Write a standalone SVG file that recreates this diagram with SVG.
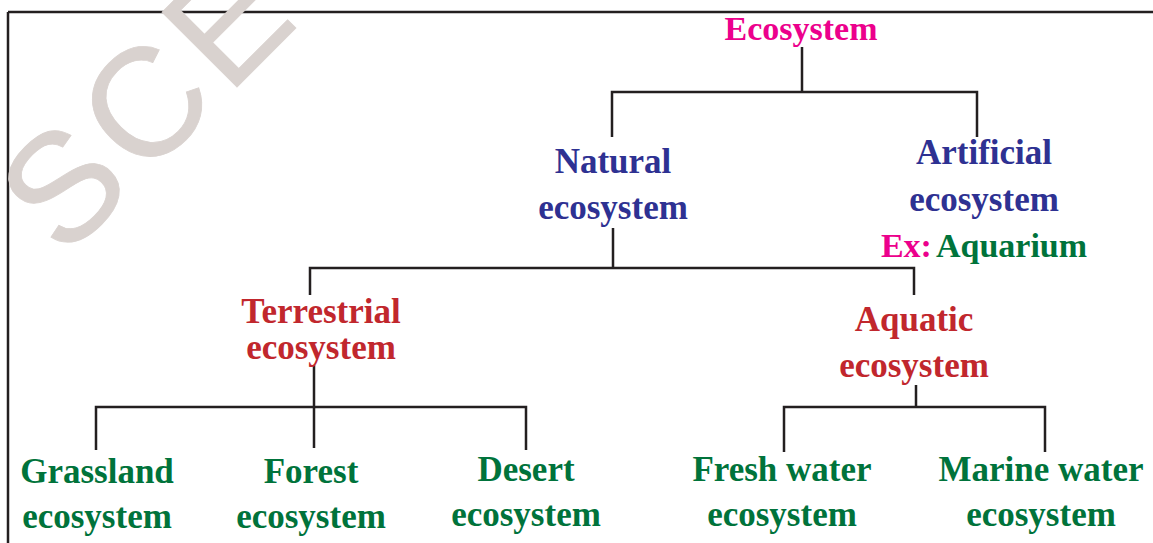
<svg xmlns="http://www.w3.org/2000/svg" width="1153" height="543" viewBox="0 0 1153 543">
<style>
.t{font-family:"Liberation Serif","Times New Roman",serif;font-weight:bold;font-size:35px;text-anchor:middle}
.mag{fill:#ec008c}.blue{fill:#2e3192}.red{fill:#c1272d}.grn{fill:#00733b}
.c{stroke:#231f20;stroke-width:2.5;fill:none}
.wm{font-family:"Liberation Sans",Arial,sans-serif;font-size:154px;fill:#d9d2cf;stroke:#d9d2cf;stroke-width:0.8;letter-spacing:9px}
</style>
<rect width="1153" height="543" fill="#fff"/>
<path d="M8 12H1153M8 12V543" stroke="#231f20" stroke-width="2.5" fill="none"/>
<text class="wm" transform="translate(64,260) rotate(-45)">SCE</text>
<g id="connectors" class="c">
<path d="M802 47V92M612 137V92H977V137"/>
<path d="M613 228V268M310 295V268H914V295"/>
<path d="M314 365V448M96 450V407H526V450"/>
<path d="M916 385V407M784 452V407H1045V452"/>
</g>
<g id="ecosystem"><text class="t mag" x="801" y="40" style="font-size:34px">Ecosystem</text></g>
<g id="natural"><text class="t blue" x="613" y="173">Natural</text><text class="t blue" x="613" y="219">ecosystem</text></g>
<g id="artificial"><text class="t blue" x="984" y="164">Artificial</text><text class="t blue" x="984" y="211">ecosystem</text>
<text class="t" x="984" y="257" style="font-size:34px"><tspan class="mag">Ex:</tspan><tspan class="grn" dx="4">Aquarium</tspan></text></g>
<g id="terrestrial"><text class="t red" x="321" y="323">Terrestrial</text><text class="t red" x="321" y="359">ecosystem</text></g>
<g id="aquatic"><text class="t red" x="914" y="331">Aquatic</text><text class="t red" x="914" y="377">ecosystem</text></g>
<g id="grassland"><text class="t grn" x="97" y="483">Grassland</text><text class="t grn" x="97" y="528">ecosystem</text></g>
<g id="forest"><text class="t grn" x="311" y="483">Forest</text><text class="t grn" x="311" y="528">ecosystem</text></g>
<g id="desert"><text class="t grn" x="526" y="481">Desert</text><text class="t grn" x="526" y="526">ecosystem</text></g>
<g id="freshwater"><text class="t grn" x="782" y="481">Fresh water</text><text class="t grn" x="782" y="526">ecosystem</text></g>
<g id="marinewater"><text class="t grn" x="1041" y="481">Marine water</text><text class="t grn" x="1041" y="526">ecosystem</text></g>
</svg>
